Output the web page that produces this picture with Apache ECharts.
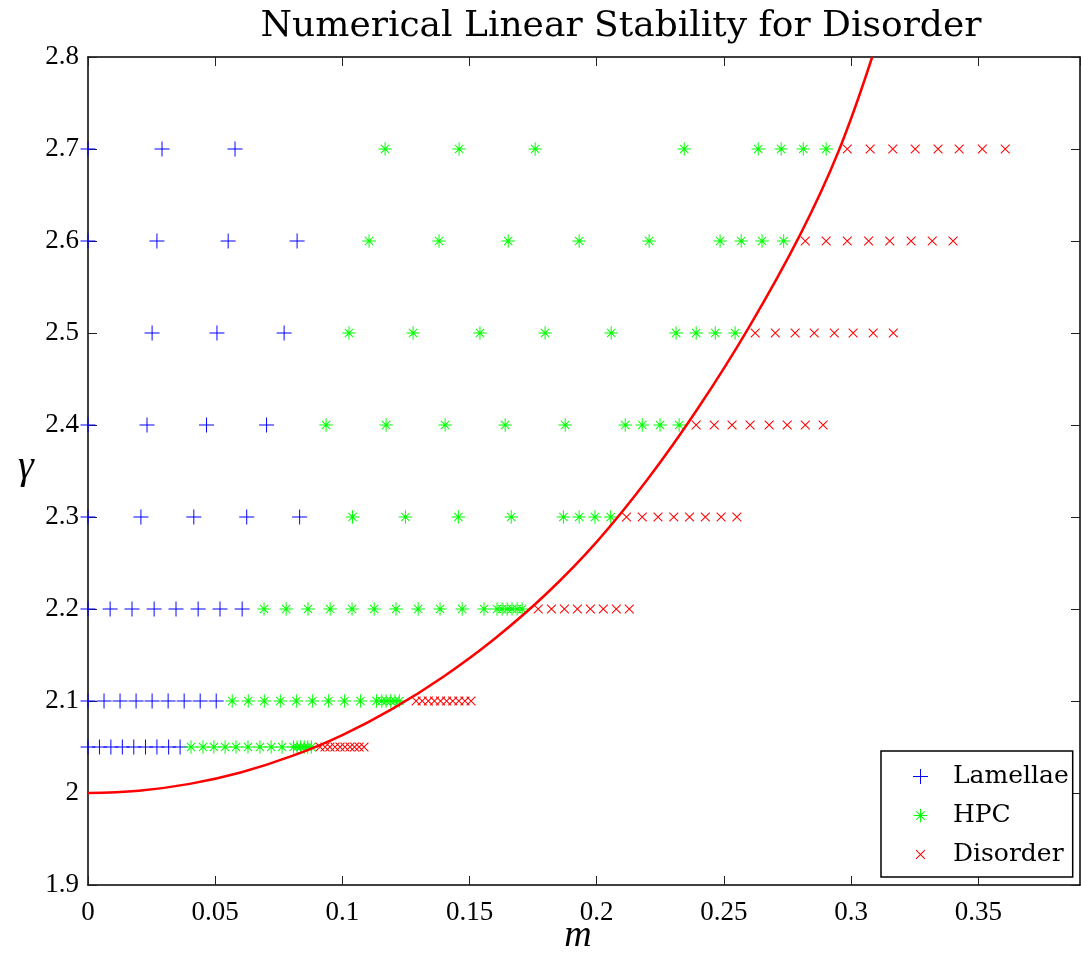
<!DOCTYPE html>
<html>
<head>
<meta charset="utf-8">
<script src="https://cdn.jsdelivr.net/npm/echarts@6/dist/echarts.min.js"></script>
<style>
html,body{margin:0;padding:0;background:#fff;}
#chart{width:1081px;height:954px;}
</style>
</head>
<body>
<div id="chart"></div>
<script>
// ---- data ----
const gammaLevels = [2.05, 2.1, 2.2, 2.3, 2.4, 2.5, 2.6, 2.7];

const lamellaeM = [
  [0, 0.0045, 0.009, 0.0135, 0.018, 0.0226, 0.0271, 0.0317, 0.0362],
  [0, 0.0063, 0.0126, 0.0189, 0.0252, 0.0315, 0.0378, 0.0441, 0.0504],
  [0, 0.0087, 0.0173, 0.026, 0.0346, 0.0433, 0.0519, 0.0606],
  [0, 0.0208, 0.0416, 0.0624, 0.0832],
  [0, 0.0232, 0.0466, 0.0702],
  [0.0252, 0.0507, 0.0771],
  [0, 0.0271, 0.0551, 0.0822],
  [0, 0.0291, 0.0578]
];

const hpcM = [
  [0.0405, 0.0452, 0.0495, 0.0539, 0.0582, 0.0629, 0.0676, 0.072, 0.0763, 0.0808, 0.0822, 0.0836, 0.085, 0.0864, 0.0878],
  [0.0567, 0.063, 0.0693, 0.0756, 0.0819, 0.0882, 0.0945, 0.1008, 0.1071, 0.1134, 0.1155, 0.1172, 0.119, 0.1207, 0.1224],
  [0.0692, 0.0779, 0.0865, 0.0952, 0.1038, 0.1125, 0.1211, 0.1298, 0.1384, 0.1471, 0.1557, 0.1608, 0.1628, 0.1648, 0.1667, 0.1687, 0.1707],
  [0.104, 0.1248, 0.1456, 0.1664, 0.1869, 0.1931, 0.1993, 0.2055],
  [0.0936, 0.1172, 0.1404, 0.164, 0.1876, 0.2112, 0.2179, 0.2249, 0.2324],
  [0.1026, 0.1278, 0.1541, 0.1797, 0.2057, 0.2312, 0.2391, 0.2466, 0.2544],
  [0.1105, 0.138, 0.1652, 0.1931, 0.2206, 0.2485, 0.2568, 0.265, 0.2735],
  [0.1168, 0.1459, 0.1758, 0.2344, 0.2635, 0.2725, 0.2812, 0.2902]
];

const disorderM = [
  [0.0912, 0.0932, 0.0951, 0.0971, 0.0991, 0.101, 0.103, 0.1048, 0.1066, 0.1085],
  [0.129, 0.1314, 0.1338, 0.1362, 0.1386, 0.141, 0.1434, 0.1458, 0.1482, 0.1506],
  [0.177, 0.1822, 0.1873, 0.1924, 0.1975, 0.2026, 0.2077, 0.2128],
  [0.2117, 0.2179, 0.2241, 0.2303, 0.2365, 0.2427, 0.2489, 0.2551],
  [0.2391, 0.2462, 0.2532, 0.2603, 0.2678, 0.2749, 0.282, 0.289],
  [0.2623, 0.2702, 0.278, 0.2855, 0.2934, 0.3008, 0.3087, 0.3166],
  [0.282, 0.2902, 0.2985, 0.3069, 0.3152, 0.3236, 0.3319, 0.3401],
  [0.2985, 0.3075, 0.3164, 0.3252, 0.3342, 0.3425, 0.3516, 0.3606]
];

const curveM     = [0, 0.02, 0.04, 0.06, 0.08, 0.1, 0.12, 0.14, 0.16, 0.18, 0.2, 0.22, 0.24, 0.26, 0.28, 0.295, 0.3083];
const curveGamma = [2.0, 2.0025, 2.0099, 2.0223, 2.04, 2.063, 2.092, 2.127, 2.168, 2.216, 2.273, 2.341, 2.419, 2.507, 2.607, 2.697, 2.8];

const seriesNames = ['Lamellae', 'HPC', 'Disorder'];
const xAxisTitle = 'm';
const yAxisTitle = 'γ';

// ---- build ----
function rows(mRows) {
  const out = [];
  mRows.forEach((r, i) => r.forEach(m => out.push([m, gammaLevels[i]])));
  return out;
}
const curveData = curveM.map((m, i) => [m, curveGamma[i]]);

// marker shapes in a 20x20 box (tiny corner dots fix the box)
const corners = 'M0,0L0.01,0L0.01,0.01Z M19.99,19.99L20,19.99L20,20Z ';
function diag(a, b, d) {
  return 'M' + (a + d) + ',' + a + 'L' + b + ',' + (b - d) + 'L' + (b - d) + ',' + b + 'L' + a + ',' + (a + d) + 'Z ' +
         'M' + a + ',' + (b - d) + 'L' + (b - d) + ',' + a + 'L' + b + ',' + (a + d) + 'L' + (a + d) + ',' + b + 'Z ';
}
const plusPath = 'path://' + corners + 'M0,9.35H20V10.65H0Z M9.35,0H10.65V20H9.35Z';
const starPath = 'path://' + corners + 'M1,9.35H19V10.65H1Z M9.35,1H10.65V19H9.35Z ' + diag(4, 16, 0.9);
const crossPath = 'path://' + corners + diag(3.6, 16.4, 0.95);

const fontSerif = '"DejaVu Serif", "Liberation Serif", serif';
const fontTick = '"Liberation Serif", "DejaVu Serif", serif';

const axisLine = { show: true, onZero: false, lineStyle: { color: '#000', width: 1.5 } };
const axisTick = { show: true, inside: true, length: 9, lineStyle: { color: '#222', width: 1 } };

const chart = echarts.init(document.getElementById('chart'), null, { renderer: 'canvas' });
chart.setOption({
  animation: false,
  backgroundColor: '#fff',
  title: {
    text: 'Numerical Linear Stability for Disorder',
    left: 616, top: 4, textAlign: 'center',
    textStyle: { fontFamily: fontSerif, fontSize: 36, fontWeight: 'normal', color: '#000' }
  },
  grid: { left: 88, right: 1, top: 57, bottom: 69, containLabel: false, outerBoundsMode: 'none' },
  xAxis: [{
    type: 'value', min: 0, max: 0.39, interval: 0.05, position: 'bottom',
    axisLine: axisLine, axisTick: axisTick, splitLine: { show: false },
    axisLabel: { show: true, showMaxLabel: false, margin: 14, color: '#000', fontFamily: fontTick, fontSize: 27 }
  }, {
    type: 'value', min: 0, max: 0.39, interval: 0.05, position: 'top',
    axisLine: axisLine, axisTick: axisTick, splitLine: { show: false },
    axisLabel: { show: false }
  }],
  yAxis: [{
    type: 'value', min: 1.9, max: 2.8, interval: 0.1, position: 'left',
    axisLine: axisLine, axisTick: axisTick, splitLine: { show: false },
    axisLabel: { show: true, margin: 9, color: '#000', fontFamily: fontTick, fontSize: 27 }
  }, {
    type: 'value', min: 1.9, max: 2.8, interval: 0.1, position: 'right',
    axisLine: axisLine, axisTick: axisTick, splitLine: { show: false },
    axisLabel: { show: false }
  }],
  graphic: [{
    type: 'text', x: 578, y: 955,
    style: { text: xAxisTitle, font: 'italic 38px "Liberation Serif", serif', fill: '#000', textAlign: 'center', textVerticalAlign: 'bottom' }
  }, {
    type: 'text', x: 26, y: 487,
    style: { text: yAxisTitle, font: 'italic 40px "Liberation Serif", serif', fill: '#000', textAlign: 'center', textVerticalAlign: 'bottom' }
  }],
  legend: {
    orient: 'vertical', left: 881, top: 751,
    data: seriesNames,
    backgroundColor: '#fff', borderColor: '#000', borderWidth: 1.5, borderRadius: 0,
    padding: [13, 4, 10, 32],
    itemWidth: 15, itemHeight: 15, itemGap: 14,
    textStyle: { fontFamily: fontSerif, fontSize: 25, lineHeight: 25, color: '#000', padding: [0, 0, 0, 20] }
  },
  series: [{
    name: seriesNames[0], type: 'scatter', data: rows(lamellaeM), symbol: plusPath, symbolSize: 15,
    itemStyle: { color: '#0000ff', opacity: 1 }, clip: false, z: 3
  }, {
    name: seriesNames[1], type: 'scatter', data: rows(hpcM), symbol: starPath, symbolSize: 15,
    itemStyle: { color: '#00ff00', opacity: 1 }, clip: false, z: 3
  }, {
    name: seriesNames[2], type: 'scatter', data: rows(disorderM), symbol: crossPath, symbolSize: 15,
    itemStyle: { color: '#ff0000', opacity: 1 }, clip: false, z: 3
  }, {
    name: 'boundary', type: 'line', data: curveData, smooth: 0.4, showSymbol: false, symbol: 'none',
    lineStyle: { color: '#ff0000', width: 2.5 }, z: 4, clip: true
  }]
});
</script>
</body>
</html>
